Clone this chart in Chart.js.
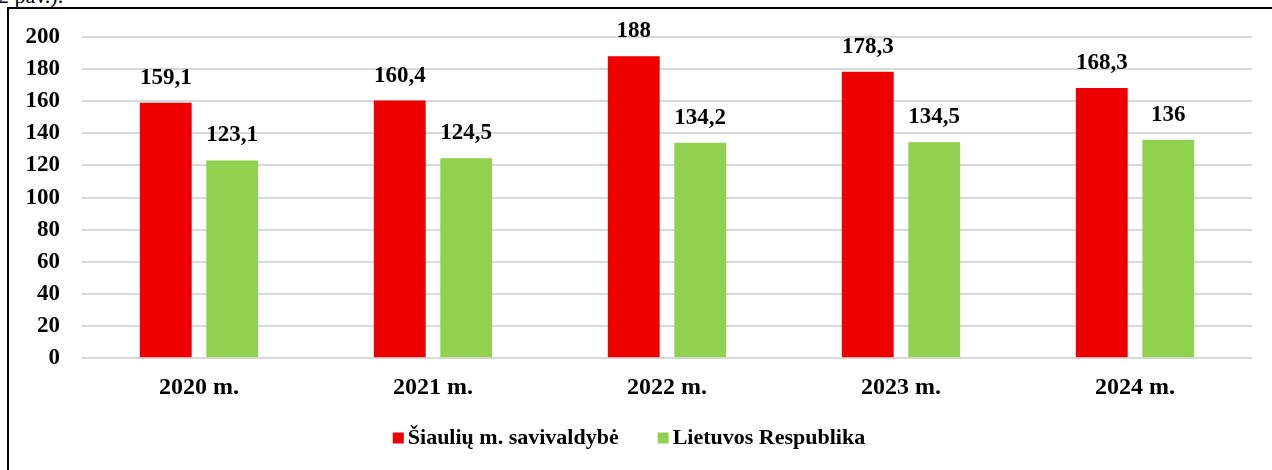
<!DOCTYPE html>
<html>
<head>
<meta charset="utf-8">
<script src="https://cdn.jsdelivr.net/npm/chart.js@4/dist/chart.umd.min.js"></script>
<style>
  body { margin: 0; background: #fff; overflow: hidden; }
  #caption { position: absolute; left: -2px; top: -17px; font: 22px "Liberation Serif", serif; color: #000; }
  #frame { position: absolute; left: 7px; top: 7px; width: 1270px; height: 470px; border-left: 2px solid #000; border-top: 2px solid #000; }
  #wrap { position: absolute; left: 0; top: 0; width: 1272px; height: 470px; }
</style>
</head>
<body>
<div id="caption">2 pav.).</div>
<div id="frame"></div>
<div id="wrap"><canvas id="myChart"></canvas></div>
<script>
// Duomenys
const years = ["2020 m.", "2021 m.", "2022 m.", "2023 m.", "2024 m."];
const siauliai = [159.1, 160.4, 188, 178.3, 168.3];
const lietuva = [123.1, 124.5, 134.2, 134.5, 136];
const seriesNames = ["Šiaulių m. savivaldybė", "Lietuvos Respublika"];
const seriesColors = ["#ee0000", "#92d050"];

const FONT = "'Liberation Serif', 'Times New Roman', serif";

// Reikšmių užrašai virš stulpelių
const valueLabels = {
  id: "valueLabels",
  afterDatasetsDraw(chart) {
    const ctx = chart.ctx;
    ctx.save();
    ctx.font = "bold 23px " + FONT;
    ctx.fillStyle = "#000";
    ctx.textAlign = "center";
    ctx.textBaseline = "middle";
    chart.data.datasets.forEach((ds, i) => {
      chart.getDatasetMeta(i).data.forEach((bar, j) => {
        const txt = String(ds.data[j]).replace(".", ",");
        ctx.fillText(txt, bar.x, bar.y - 25);
      });
    });
    ctx.restore();
  }
};

// Legenda apačioje (mažesnis tarpas tarp kvadratėlio ir teksto nei Chart.js)
const bottomLegend = {
  id: "bottomLegend",
  afterDraw(chart) {
    const ctx = chart.ctx;
    const box = 11, gapText = 4, gapItem = 39, cy = 438;
    ctx.save();
    ctx.font = "bold 22px " + FONT;
    ctx.textBaseline = "middle";
    const items = chart.data.datasets.map(ds => ({ text: ds.label, color: ds.backgroundColor, w: ctx.measureText(ds.label).width }));
    const total = items.reduce((s, it) => s + box + gapText + it.w, 0) + gapItem * (items.length - 1);
    let x = 629 - total / 2;
    items.forEach(it => {
      ctx.fillStyle = it.color;
      ctx.fillRect(x, cy - box / 2, box, box);
      x += box + gapText;
      ctx.fillStyle = "#000";
      ctx.fillText(it.text, x, cy);
      x += it.w + gapItem;
    });
    ctx.restore();
  }
};

new Chart(document.getElementById("myChart"), {
  type: "bar",
  data: {
    labels: years,
    datasets: [
      { label: seriesNames[0], data: siauliai, backgroundColor: seriesColors[0] },
      { label: seriesNames[1], data: lietuva, backgroundColor: seriesColors[1] }
    ]
  },
  options: {
    responsive: true,
    maintainAspectRatio: false,
    animation: false,
    layout: { padding: { left: 24, right: 20, top: 37, bottom: 61 } },
    datasets: { bar: { categoryPercentage: 0.568, barPercentage: 0.78 } },
    scales: {
      x: {
        grid: { display: false },
        border: { display: false },
        ticks: { color: "#000", font: { family: FONT, size: 24, weight: "bold" }, padding: 7 }
      },
      y: {
        min: 0,
        max: 200,
        afterFit(scale) { scale.width = 58; },
        grid: { color: "#d9d9d9", lineWidth: 2, drawTicks: false },
        border: { display: false },
        ticks: { stepSize: 20, autoSkip: false, color: "#000", font: { family: FONT, size: 23, weight: "bold" }, padding: 22 }
      }
    },
    plugins: {
      tooltip: { enabled: false },
      legend: { display: false }
    }
  },
  plugins: [valueLabels, bottomLegend]
});
</script>
</body>
</html>
